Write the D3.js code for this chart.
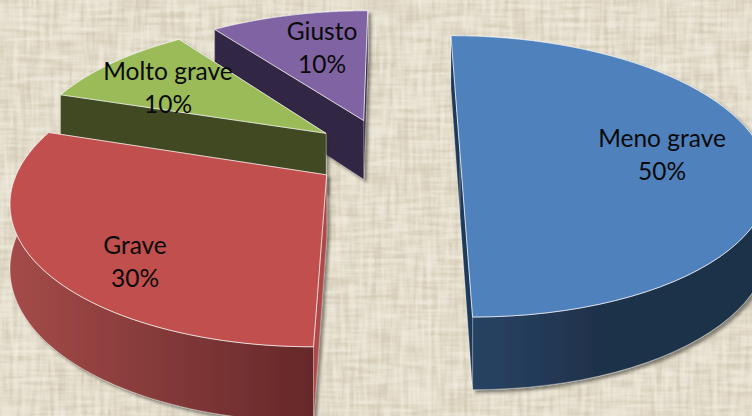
<!DOCTYPE html>
<html>
<head>
<meta charset="utf-8">
<script src="https://cdnjs.cloudflare.com/ajax/libs/d3/7.8.5/d3.min.js"></script>
<style>
  html, body { margin: 0; padding: 0; background: #e0d8c4; overflow: hidden; }
  svg { display: block; }
  text { font-family: Lato, "Open Sans", sans-serif; font-size: 24.5px; fill: #0a0a0a; text-anchor: middle; }
</style>
</head>
<body>
<svg id="chart" width="752" height="416"></svg>
<script>
const categories = ['Meno grave', 'Grave', 'Molto grave', 'Giusto'];
const values = [50, 30, 10, 10];

const topColors = ['#4f81bd', '#c0504d', '#9bbb59', '#8064a2'];
const faceColors = ['#1f3a5c', '#ad4a48', '#3f4a22', '#332844'];
const wallFrom = ['#2a4668', '#a44b49', '#3f4a22', '#332844'];
const wallTo = ['#1e3049', '#652829', '#3f4a22', '#332844'];

// how far each slice is pulled out of the pie, in pie radii
const offsets = [[0.218, 0.008], [-0.217, 0.157], [-0.23, -0.146], [-0.104, -0.245]];
const labelAt = [[662, 147], [135, 254], [168, 80], [322, 40]];
const lineGap = 32.5;

const width = 752;
const height = 416;

// camera: ground plane lines converge at (vx, vy)
const vx = 394;
const vy = -707;
const q0 = 0.001163;
const qr = 0.000185;
const spread = 0.352;
const thick = 0.071;

function project(X, Z, down) {
  const s = 1 / (q0 - qr * Z);
  return [vx + X * spread * s, vy + s + (down ? thick * s : 0)];
}

const svg = d3.select('#chart');
const defs = svg.append('defs');

// linen background, two sets of stretched noise crossing each other
const linen = defs.append('filter').attr('id', 'linen')
  .attr('x', 0).attr('y', 0).attr('width', '100%').attr('height', '100%');
linen.append('feTurbulence').attr('type', 'fractalNoise')
  .attr('baseFrequency', '0.025 0.22').attr('numOctaves', 2).attr('seed', 4).attr('result', 'h');
linen.append('feTurbulence').attr('type', 'fractalNoise')
  .attr('baseFrequency', '0.22 0.025').attr('numOctaves', 2).attr('seed', 9).attr('result', 'v');
linen.append('feComposite').attr('in', 'h').attr('in2', 'v')
  .attr('operator', 'arithmetic').attr('k1', 0).attr('k2', 0.5).attr('k3', 0.5).attr('k4', 0)
  .attr('result', 'mix');
linen.append('feGaussianBlur').attr('in', 'mix').attr('stdDeviation', 0.7).attr('result', 'soft');
linen.append('feColorMatrix').attr('in', 'soft').attr('type', 'matrix')
  .attr('values', `0 0 0 0 0.55  0 0 0 0 0.50  0 0 0 0 0.38  1.3 0 0 0 -0.55`)
  .attr('result', 'dark');
linen.append('feColorMatrix').attr('in', 'soft').attr('type', 'matrix')
  .attr('values', `0 0 0 0 0.95  0 0 0 0 0.93  0 0 0 0 0.86  -1.3 0 0 0 0.85`)
  .attr('result', 'light');
linen.append('feMerge').call(m => {
  m.append('feMergeNode').attr('in', 'SourceGraphic');
  m.append('feMergeNode').attr('in', 'dark');
  m.append('feMergeNode').attr('in', 'light');
});

const shadow = defs.append('filter').attr('id', 'shadow')
  .attr('x', '-10%').attr('y', '-10%').attr('width', '125%').attr('height', '125%');
shadow.append('feDropShadow').attr('dx', 3).attr('dy', 3).attr('stdDeviation', 1.8)
  .attr('flood-color', '#2a2a20').attr('flood-opacity', 0.5);

svg.append('rect').attr('width', width).attr('height', height)
  .attr('fill', '#e0d8c4').attr('filter', 'url(#linen)');

const pie = d3.pie().sort(null).value(d => d)(values);
const line = d3.line();

const rim = (i, a, down) => project(
  offsets[i][0] + Math.sin(a),
  offsets[i][1] - Math.cos(a),
  down
);
const apex = (i, down) => project(offsets[i][0], offsets[i][1], down);
const arcAngles = d => d3.range(0, 61).map(k => d.startAngle + (d.endAngle - d.startAngle) * k / 60);

// back slices first
const slices = svg.selectAll('g.slice')
  .data(pie.map((d, i) => ({d, i})).reverse())
  .enter().append('g')
  .attr('class', 'slice')
  .attr('filter', 'url(#shadow)');

slices.each(function ({d, i}) {
  const g = d3.select(this);
  const angles = arcAngles(d);

  // outer wall
  const upper = angles.map(a => rim(i, a, false));
  const lower = angles.map(a => rim(i, a, true)).reverse();
  const grad = defs.append('linearGradient').attr('id', `wall${i}`)
    .attr('gradientUnits', 'userSpaceOnUse')
    .attr('x1', d3.min(upper, p => p[0]))
    .attr('x2', d3.max(upper, p => p[0]))
    .attr('y1', 0).attr('y2', 0);
  grad.append('stop').attr('offset', 0).attr('stop-color', wallFrom[i]);
  grad.append('stop').attr('offset', i === 0 ? 0.5 : 1).attr('stop-color', wallTo[i]);
  g.append('path').attr('d', line(upper.concat(lower)) + 'Z')
    .attr('fill', `url(#wall${i})`)
    .attr('stroke', '#fff').attr('stroke-opacity', 0.45).attr('stroke-width', 0.8);

  // cut faces, the nearer one last
  [d.startAngle, d.endAngle]
    .sort((a, b) => Math.cos(b) - Math.cos(a))
    .forEach(a => {
      const quad = [apex(i, false), rim(i, a, false), rim(i, a, true), apex(i, true)];
      g.append('path').attr('d', line(quad) + 'Z')
        .attr('fill', faceColors[i])
        .attr('stroke', '#fff').attr('stroke-opacity', 0.35).attr('stroke-width', 0.6);
    });

  // top
  const top = [apex(i, false)].concat(upper);
  g.append('path').attr('d', line(top) + 'Z')
    .attr('fill', topColors[i])
    .attr('stroke', '#fff').attr('stroke-opacity', 0.8).attr('stroke-width', 0.9);
});

const labels = svg.selectAll('g.label')
  .data(categories)
  .enter().append('g')
  .attr('class', 'label')
  .attr('transform', (c, i) => `translate(${labelAt[i][0]},${labelAt[i][1]})`);

labels.append('text').text(c => c);
labels.append('text').attr('y', lineGap).text((c, i) => `${values[i]}%`);
</script>
</body>
</html>
